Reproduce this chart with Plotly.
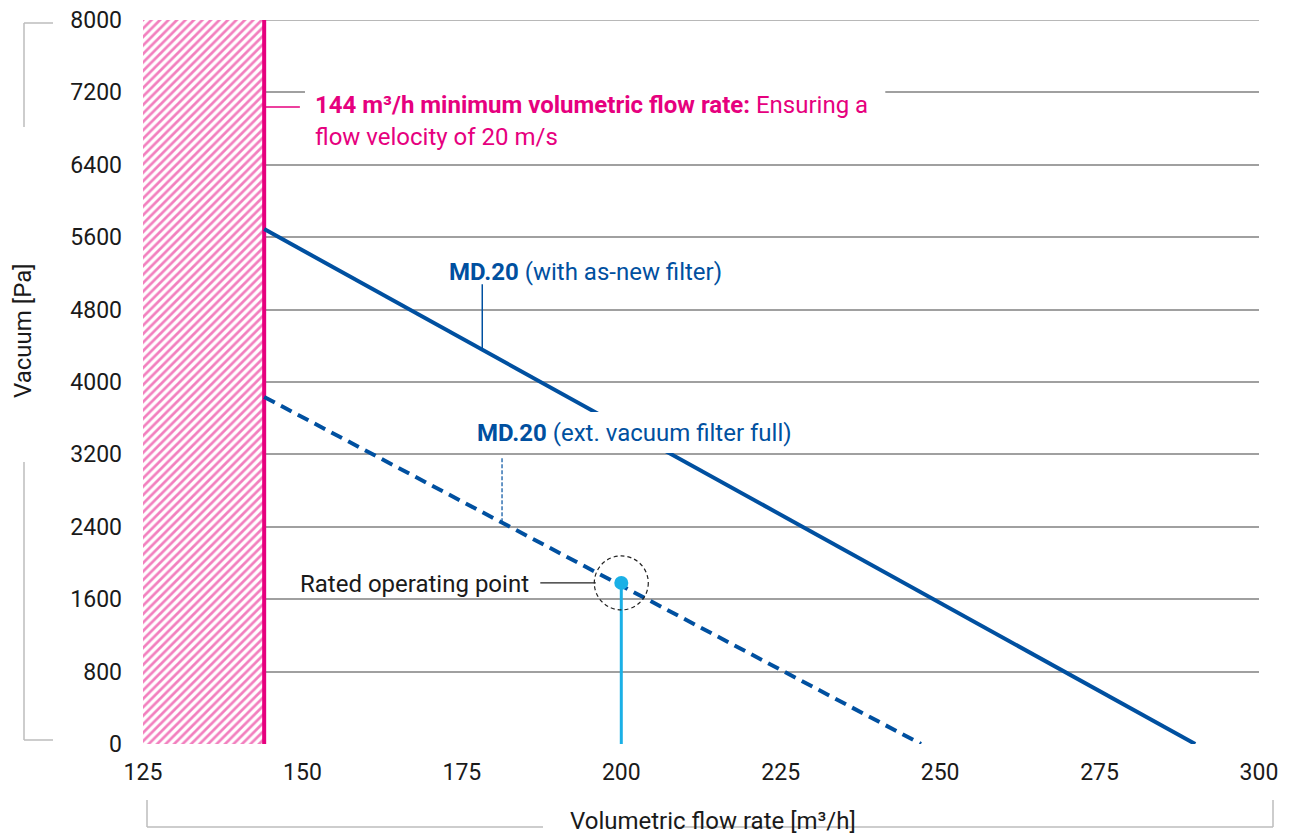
import plotly.graph_objects as go

# ---- data ----
flow_new = [144, 290]          # m³/h
vac_new = [5690, 0]            # Pa
flow_full = [144, 247]
vac_full = [3835, 0]
min_flow = 144
op_flow = 200
op_vac = 1780
x_ticks = [125, 150, 175, 200, 225, 250, 275, 300]
y_ticks = [0, 800, 1600, 2400, 3200, 4000, 4800, 5600, 6400, 7200, 8000]

PINK = "#E6007E"
BLUE = "#0050A0"
CYAN = "#1AB0E6"
FONT = "Roboto"
TXT = "#1a1a1a"

# page offset (body margin) and window-space plot box
OFF = 8
W, H = 1296 - OFF, 839 - OFF
L, R, T, B = 143, 1259, 20, 744


def px(x):
    return (x - L) / (R - L)


def py(y):
    return (B - y) / (B - T)


fig = go.Figure()

# hatched forbidden area
fig.add_trace(go.Scatter(
    x=[x_ticks[0], min_flow, min_flow, x_ticks[0], x_ticks[0]],
    y=[0, 0, y_ticks[-1], y_ticks[-1], 0],
    fill="toself", mode="lines", line=dict(width=0),
    fillcolor="rgba(0,0,0,0)",
    fillpattern=dict(shape="/", fgcolor=PINK, bgcolor="white", size=6, solidity=0.45),
    hoverinfo="skip", showlegend=False))

# minimum flow line
fig.add_trace(go.Scatter(x=[min_flow, min_flow], y=[0, y_ticks[-1]], mode="lines",
                         line=dict(color=PINK, width=4), showlegend=False))

# curves
fig.add_trace(go.Scatter(x=flow_new, y=vac_new, mode="lines",
                         line=dict(color=BLUE, width=4), showlegend=False))
fig.add_trace(go.Scatter(x=flow_full, y=vac_full, mode="lines",
                         line=dict(color=BLUE, width=4, dash="12px,7px"), showlegend=False))

# operating point
fig.add_trace(go.Scatter(x=[op_flow, op_flow], y=[0, op_vac], mode="lines",
                         line=dict(color=CYAN, width=3), showlegend=False))
fig.add_trace(go.Scatter(x=[op_flow], y=[op_vac], mode="markers",
                         marker=dict(color=CYAN, size=14), showlegend=False))

shapes = []
# top grid line (plotly omits the grid line lying on the plot edge)
shapes.append(dict(type="line", xref="paper", yref="y", x0=0, x1=1,
                   y0=y_ticks[-1], y1=y_ticks[-1],
                   line=dict(color="#a0a0a0", width=1.5), layer="below"))
# white label backgrounds
shapes.append(dict(type="rect", xref="x", yref="y", x0=150.4, x1=241.4, y0=6508, y1=7282,
                   fillcolor="white", line=dict(width=0), layer="above"))
shapes.append(dict(type="rect", xref="x", yref="y", x0=176.3, x1=234.8, y0=3215, y1=3669,
                   fillcolor="white", line=dict(width=0), layer="above"))
# leader lines
shapes.append(dict(type="line", xref="x", yref="y", x0=min_flow, x1=149.6, y0=7040, y1=7040,
                   line=dict(color=PINK, width=1.5), layer="above"))
shapes.append(dict(type="line", xref="x", yref="y", x0=178.2, x1=178.2, y0=4365, y1=5080,
                   line=dict(color=BLUE, width=1.5), layer="above"))
shapes.append(dict(type="line", xref="x", yref="y", x0=181.3, x1=181.3, y0=2450, y1=3170,
                   line=dict(color=BLUE, width=1.2, dash="4px,2px"), layer="above"))
shapes.append(dict(type="line", xref="x", yref="y", x0=187.3, x1=196.0, y0=op_vac, y1=op_vac,
                   line=dict(color="#222", width=1.2), layer="above"))
shapes.append(dict(type="circle", xref="x", yref="y", xsizemode="pixel", ysizemode="pixel",
                   xanchor=op_flow, yanchor=op_vac, x0=-27, x1=27, y0=-27, y1=27,
                   line=dict(color="#222", width=1.2, dash="4px,3px"), layer="above"))

# axis brackets
GR = "#bdbdbd"
def pline(x0, y0, x1, y1):
    shapes.append(dict(type="line", xref="paper", yref="paper",
                       x0=px(x0), x1=px(x1), y0=py(y0), y1=py(y1),
                       line=dict(color=GR, width=1.5)))

pline(24, 23, 53, 23)
pline(24, 23, 24, 127)
pline(24, 462, 24, 740)
pline(24, 740, 53, 740)
pline(147, 800, 147, 827)
pline(147, 827, 543, 827)
pline(680, 827, 1273, 827)
pline(1273, 800, 1273, 827)

AF = 24
annotations = [
    dict(x=151.66, y=7061, xref="x", yref="y", xanchor="left", yanchor="middle",
         text="<b>144 m³/h minimum volumetric flow rate:</b> Ensuring a",
         showarrow=False, font=dict(family=FONT, size=AF, color=PINK)),
    dict(x=151.66, y=6707, xref="x", yref="y", xanchor="left", yanchor="middle",
         text="flow velocity of 20 m/s",
         showarrow=False, font=dict(family=FONT, size=AF, color=PINK)),
    dict(x=172.67, y=5215, xref="x", yref="y", xanchor="left", yanchor="middle",
         text="<b>MD.20</b> (with as-new filter)",
         showarrow=False, font=dict(family=FONT, size=AF, color=BLUE)),
    dict(x=177.06, y=3436, xref="x", yref="y", xanchor="left", yanchor="middle",
         text="<b>MD.20</b> (ext. vacuum filter full)",
         showarrow=False, font=dict(family=FONT, size=AF, color=BLUE)),
    dict(x=185.84, y=1768, xref="x", yref="y", xanchor="right", yanchor="middle",
         text="Rated operating point",
         showarrow=False, font=dict(family=FONT, size=AF, color=TXT)),
    dict(x=px(23), y=py(331), xref="paper", yref="paper", xanchor="center", yanchor="middle",
         text="Vacuum [Pa]", textangle=-90, showarrow=False, borderpad=0,
         font=dict(family=FONT, size=AF, color=TXT)),
    dict(x=px(713), y=py(821), xref="paper", yref="paper", xanchor="center", yanchor="middle",
         text="Volumetric flow rate [m³/h]", showarrow=False, borderpad=0,
         font=dict(family=FONT, size=AF, color=TXT)),
]

fig.update_layout(
    width=W, height=H,
    margin=dict(l=L - OFF, r=W - (R - OFF), t=T - OFF, b=H - (B - OFF), pad=0,
                autoexpand=False),
    plot_bgcolor="white", paper_bgcolor="white",
    font=dict(family=FONT, size=23, color=TXT),
    shapes=shapes, annotations=annotations, showlegend=False,
    xaxis=dict(range=[x_ticks[0], x_ticks[-1]], tickvals=x_ticks, showgrid=False,
               zeroline=False, showline=False, ticks="", ticklabelstandoff=12,
               ticklabeloverflow="allow", automargin=False,
               tickfont=dict(family=FONT, size=23, color=TXT), fixedrange=True),
    yaxis=dict(range=[y_ticks[0], y_ticks[-1]], tickvals=y_ticks, showgrid=True,
               gridcolor="#a0a0a0", gridwidth=1.5, zeroline=False, showline=False,
               ticks="", ticklabelstandoff=20, ticklabeloverflow="allow", automargin=False,
               tickfont=dict(family=FONT, size=23, color=TXT), fixedrange=True),
)

fig.write_html("out.html")
